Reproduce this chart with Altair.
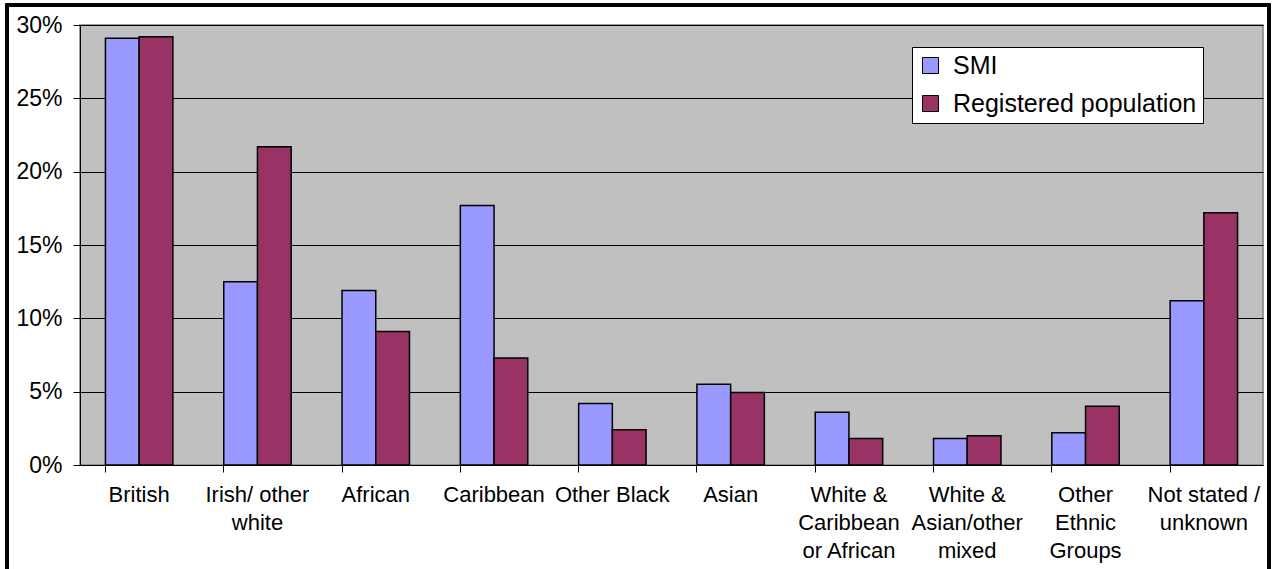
import altair as alt
import pandas as pd

# Ethnic group categories ("\n" marks where the axis label wraps)
categories = [
    "British",
    "Irish/ other\nwhite",
    "African",
    "Caribbean",
    "Other Black",
    "Asian",
    "White &\nCaribbean\nor African",
    "White &\nAsian/other\nmixed",
    "Other\nEthnic\nGroups",
    "Not stated /\nunknown",
]

series_names = ["SMI", "Registered population"]

# Share of each group, in percent
smi = [29.1, 12.5, 11.9, 17.7, 4.2, 5.5, 3.6, 1.8, 2.2, 11.2]
registered = [29.2, 21.7, 9.1, 7.3, 2.4, 4.95, 1.8, 2.0, 4.0, 17.2]

y_ticks = [0, 5, 10, 15, 20, 25, 30]
colors = ["#9999FF", "#993366"]

rows = []
for cat, a, b in zip(categories, smi, registered):
    rows.append({"group": cat, "series": series_names[0], "share": a})
    rows.append({"group": cat, "series": series_names[1], "share": b})
df = pd.DataFrame(rows)

FONT = "Liberation Sans"

bars = alt.Chart(df).mark_bar(stroke="black", strokeWidth=1.5).encode(
    x=alt.X(
        "group:N",
        sort=categories,
        scale=alt.Scale(paddingInner=0.43, paddingOuter=0.215),
        axis=alt.Axis(
            title=None,
            labelAngle=0,
            labelExpr="split(datum.label, '\\n')",
            labelFont=FONT,
            labelFontSize=22,
            labelColor="black",
            labelLineHeight=28,
            labelBaseline="top",
            labelPadding=12,
            labelLimit=200,
            bandPosition=0,
            tickSize=7,
            tickColor="black",
            domainColor="black",
            grid=False,
        ),
    ),
    xOffset=alt.XOffset(
        "series:N",
        sort=series_names,
        scale=alt.Scale(paddingInner=0, paddingOuter=0),
    ),
    y=alt.Y(
        "share:Q",
        scale=alt.Scale(domain=[0, 30], nice=False),
        axis=alt.Axis(
            title=None,
            values=y_ticks,
            labelExpr="datum.value + '%'",
            labelFont=FONT,
            labelFontSize=23,
            labelColor="black",
            labelPadding=11,
            tickSize=7,
            tickColor="black",
            domainColor="black",
            grid=True,
            gridColor="black",
            gridWidth=1,
            gridOpacity=1,
        ),
    ),
    color=alt.Color(
        "series:N",
        sort=series_names,
        scale=alt.Scale(domain=series_names, range=colors),
        legend=alt.Legend(
            title=None,
            orient="none",
            legendX=832,
            legendY=22,
            fillColor="white",
            strokeColor="black",
            padding=6,
            symbolType="square",
            symbolSize=256,
            symbolStrokeColor="black",
            symbolStrokeWidth=1,
            labelFont=FONT,
            labelFontSize=25,
            labelColor="black",
            labelOffset=10,
            rowPadding=12,
            labelLimit=400,
        ),
    ),
)

# Black frame around the whole figure
frame = alt.Chart(df).mark_rect(
    fill="transparent", stroke="black", strokeWidth=2.5
).encode(
    x=alt.value(-73),
    x2=alt.value(1189),
    y=alt.value(-20),
    y2=alt.value(560),
)

chart = alt.layer(frame, bars).properties(
    width=1183,
    height=440,
    background="white",
    padding={"left": 80, "top": 25, "right": 12, "bottom": 104},
    autosize=alt.AutoSizeParams(type="none"),
).configure_view(
    fill="#C0C0C0",
    stroke="#808080",
    strokeWidth=1.5,
)

chart.save("out.html", embed_options={"renderer": "svg", "actions": False})
